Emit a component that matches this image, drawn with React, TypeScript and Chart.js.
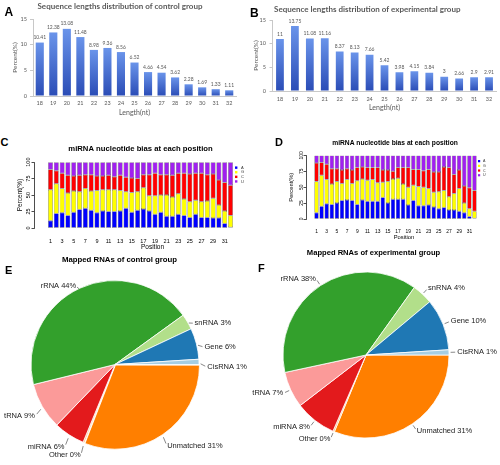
import React, { useEffect, useRef } from 'react';
import { Chart, registerables } from 'chart.js';

Chart.register(...registerables);

// ---------------- data ----------------
const lengthLabels = ['18', '19', '20', '21', '22', '23', '24', '25', '26', '27', '28', '29', '30', '31', '32'];
const controlLengthPct = [10.41, 12.38, 13.08, 11.48, 8.98, 9.36, 8.56, 6.52, 4.66, 4.54, 3.62, 2.28, 1.69, 1.33, 1.11];
const expLengthPct = [11, 13.75, 11.08, 11.16, 8.37, 8.13, 7.66, 5.42, 3.98, 4.15, 3.84, 3, 2.66, 2.9, 2.91];

const positions = [1, 2, 3, 4, 5, 6, 7, 8, 9, 10, 11, 12, 13, 14, 15, 16, 17, 18, 19, 20, 21, 22, 23, 24, 25, 26, 27, 28, 29, 30, 31, 32];
const positionTicks = [1, 3, 5, 7, 9, 11, 13, 15, 17, 19, 21, 23, 25, 27, 29, 31];
const nucleotides = ['A', 'G', 'C', 'U'];

const controlA = [11, 22, 23, 19, 24, 28, 30, 27, 23, 26, 25, 25, 26, 30, 24, 27, 29, 26, 21, 24, 18, 18, 21, 19, 16, 21, 16, 16, 15, 15, 7, 1];
const controlG = [47, 45, 37, 34, 32, 27, 30, 29, 34, 32, 33, 33, 31, 25, 30, 28, 32, 23, 28, 26, 32, 29, 31, 25, 24, 21, 24, 25, 30, 20, 19, 18];
const controlC = [31, 20, 23, 27, 23, 25, 21, 25, 22, 21, 22, 20, 23, 22, 22, 20, 20, 32, 34, 31, 31, 33, 31, 39, 42, 41, 43, 40, 37, 38, 43, 46];
const controlU = [11, 13, 17, 20, 21, 20, 19, 19, 21, 21, 20, 22, 20, 23, 24, 25, 19, 19, 17, 19, 19, 20, 17, 17, 18, 17, 17, 19, 18, 27, 31, 35];

const expA = [10, 20, 24, 23, 25, 29, 30, 29, 23, 30, 28, 28, 28, 34, 25, 31, 31, 31, 22, 29, 21, 21, 22, 19, 16, 18, 14, 14, 12, 10, 4, 1];
const expG = [49, 49, 38, 32, 34, 27, 32, 27, 37, 33, 33, 34, 29, 24, 34, 32, 33, 24, 28, 24, 30, 29, 26, 23, 27, 27, 21, 26, 36, 15, 12, 11];
const expC = [29, 20, 24, 24, 20, 21, 17, 21, 21, 19, 20, 19, 24, 19, 18, 12, 17, 26, 31, 25, 27, 26, 30, 32, 31, 37, 46, 30, 29, 27, 33, 33];
const expU = [12, 11, 14, 21, 21, 23, 21, 23, 19, 18, 19, 19, 19, 23, 23, 25, 19, 19, 19, 22, 22, 24, 22, 26, 26, 18, 19, 30, 23, 48, 51, 55];

// pie slices in drawing order (clockwise from 3 o'clock)
const pieLabels = ['Unmatched', 'Other', 'miRNA', 'tRNA', 'rRNA', 'snRNA', 'Gene', 'CisRNA'];
const controlPie = [31, 0.3, 6, 9, 44, 3, 6, 1];
const expPie = [31, 0.3, 8, 7, 38, 4, 10, 1];

// ---------------- styles ----------------
const LATO = 'Lato';
const ARIAL = '"Liberation Sans", Arial, sans-serif';
const GREY = '#595959';
const nucColors = ['#0000ff', '#ffff00', '#ff0000', '#a020f0'];
const pieColors = ['#ff7f00', '#fdbf6f', '#e31a1c', '#fb9a99', '#33a02c', '#b2df8a', '#1f78b4', '#a6cee3'];

function barGradient(context: any) {
  const chart = context.chart;
  const y = chart.scales && chart.scales.y;
  const fallback = '#3d66cf';
  if (!y || context.type !== 'data') return fallback;
  const top = y.getPixelForValue(context.raw);
  const bottom = y.getPixelForValue(0);
  if (!isFinite(top) || !isFinite(bottom) || bottom - top < 0.5) return fallback;
  const g = chart.ctx.createLinearGradient(0, top, 0, bottom);
  g.addColorStop(0, '#6a94ea');
  g.addColorStop(1, '#2a4cb6');
  return g;
}

const barValuesPlugin = {
  id: 'barValues',
  afterDatasetsDraw(chart: any) {
    const ctx = chart.ctx;
    const meta = chart.getDatasetMeta(0);
    const values = chart.data.datasets[0].data;
    ctx.save();
    ctx.font = `5px ${LATO}`;
    ctx.fillStyle = GREY;
    ctx.textAlign = 'center';
    ctx.textBaseline = 'bottom';
    meta.data.forEach((bar: any, i: number) => {
      ctx.fillText(String(values[i]), bar.x, bar.y - 2.5);
    });
    ctx.restore();
  },
};

function captionPlugin(items: any[]) {
  return {
    id: 'captions',
    afterDraw(chart: any) {
      const ctx = chart.ctx;
      ctx.save();
      items.forEach((it) => {
        ctx.font = it.font;
        ctx.fillStyle = it.color || '#000';
        ctx.textAlign = it.align || 'center';
        ctx.textBaseline = 'middle';
        ctx.fillText(it.text, it.x, it.y);
      });
      ctx.restore();
    },
  };
}

function nucLegendPlugin(p: { dx: number; tdx: number; dy0: number; step: number; box: number; size: number }) {
  return {
    id: 'nucLegend',
    afterDraw(chart: any) {
      const ctx = chart.ctx;
      const xs = chart.scales.x;
      const ys = chart.scales.y;
      const x0 = xs.getPixelForValue(positions[positions.length - 1]);
      const y0 = ys.getPixelForValue(100);
      ctx.save();
      ctx.font = `${p.size}px ${ARIAL}`;
      ctx.textAlign = 'left';
      ctx.textBaseline = 'middle';
      chart.data.datasets.forEach((ds: any, i: number) => {
        const y = y0 + p.dy0 + i * p.step;
        ctx.fillStyle = ds.backgroundColor;
        ctx.fillRect(x0 + p.dx, y - p.box / 2, p.box, p.box);
        ctx.fillStyle = '#333';
        ctx.fillText(ds.label, x0 + p.tdx, y);
      });
      ctx.restore();
    },
  };
}

function pieLabelPlugin(labels: string[], values: number[], size: number, labelDy: number) {
  return {
    id: 'pieLabels',
    afterDatasetsDraw(chart: any) {
      const ctx = chart.ctx;
      const meta = chart.getDatasetMeta(0);
      ctx.save();
      ctx.font = `${size}px ${ARIAL}`;
      ctx.fillStyle = '#222';
      ctx.strokeStyle = '#555';
      ctx.lineWidth = 0.7;
      ctx.textBaseline = 'middle';
      meta.data.forEach((arc: any, i: number) => {
        const mid = (arc.startAngle + arc.endAngle) / 2;
        const c = Math.cos(mid);
        const s = Math.sin(mid);
        const r = arc.outerRadius;
        const tx = arc.x + c * r * 1.1;
        const ty = arc.y + s * r * 1.1 + labelDy;
        ctx.beginPath();
        ctx.moveTo(arc.x + c * r * 1.02, arc.y + s * r * 1.02 + labelDy * 0.4);
        ctx.lineTo(arc.x + c * r * 1.075, arc.y + s * r * 1.075 + labelDy * 0.9);
        ctx.stroke();
        ctx.textAlign = c >= 0 ? 'left' : 'right';
        ctx.fillText(`${labels[i]} ${Math.round(values[i])}%`, tx, ty);
      });
      ctx.restore();
    },
  };
}

// ---------------- chart configs ----------------
function makeLengthChart(p: any) {
  return {
    type: 'bar',
    data: {
      labels: lengthLabels,
      datasets: [{ data: p.values, backgroundColor: barGradient, barPercentage: p.barPct, categoryPercentage: 1 }],
    },
    options: {
      responsive: false,
      animation: false,
      devicePixelRatio: 1,
      events: [],
      layout: { padding: { left: 0, right: p.padR, top: 0, bottom: 0 } },
      plugins: {
        legend: { display: false },
        tooltip: { enabled: false },
        title: {
          display: true,
          text: p.title,
          color: GREY,
          font: { family: LATO, size: 8, weight: 'bold' },
          padding: p.titlePad,
        },
      },
      scales: {
        x: {
          grid: { display: false, drawTicks: false },
          border: { display: true, color: '#c8c8c8' },
          ticks: { padding: p.xTickPad, color: GREY, font: { family: LATO, size: 5.5 }, maxRotation: 0, autoSkip: false },
          title: { display: true, text: 'Length(nt)', color: GREY, font: { family: LATO, size: 7 }, padding: { top: 0, bottom: 0 } },
          afterFit: (s: any) => { s.height = p.xHeight; },
        },
        y: {
          min: 0,
          max: 15,
          ticks: { stepSize: 5, padding: p.yTickPad, color: GREY, font: { family: LATO, size: 5.5 } },
          grid: { display: true, drawOnChartArea: false, drawTicks: true, tickLength: 3, color: '#c8c8c8' },
          border: { display: true, color: '#c8c8c8' },
          title: { display: true, text: 'Percent(%)', color: GREY, font: { family: LATO, size: 6.5 }, padding: { top: p.yTitlePad, bottom: 0 } },
          afterFit: (s: any) => { s.width = p.yWidth; },
        },
      },
    },
    plugins: [barValuesPlugin],
  };
}

function makeNucChart(p: any) {
  const series = p.series as number[][];
  return {
    type: 'bar',
    data: {
      datasets: nucleotides.map((n, k) => ({
        label: n,
        data: positions.map((pos, i) => ({ x: pos, y: series[k][i] })),
        backgroundColor: nucColors[k],
      })),
    },
    options: {
      responsive: false,
      animation: false,
      devicePixelRatio: 1,
      events: [],
      datasets: { bar: { barPercentage: 0.83, categoryPercentage: 1, borderColor: '#3a3a3a', borderWidth: 0.5, borderSkipped: false } },
      layout: { padding: 0 },
      plugins: {
        legend: { display: false },
        tooltip: { enabled: false },
        title: {
          display: true,
          text: 'miRNA nucleotide bias at each position',
          color: '#000',
          font: { family: ARIAL, size: p.titleSize, weight: 'bold' },
          padding: p.titlePad,
        },
      },
      scales: {
        x: {
          type: 'linear',
          stacked: true,
          min: p.xMin,
          max: p.xMax,
          offset: false,
          grid: { display: false, drawTicks: false },
          border: { display: false },
          afterBuildTicks: (s: any) => { s.ticks = positionTicks.map((v) => ({ value: v })); },
          ticks: { padding: p.xTickPad, color: '#000', font: { family: ARIAL, size: p.tickSize }, autoSkip: false, maxRotation: 0 },
          title: { display: true, text: 'Position', color: '#000', font: { family: ARIAL, size: p.labelSize }, padding: { top: 0, bottom: 0 } },
          afterFit: (s: any) => { s.height = p.xHeight; },
        },
        y: {
          stacked: true,
          min: 0,
          max: 100,
          ticks: { stepSize: 25, minRotation: 90, maxRotation: 90, crossAlign: 'center', padding: p.yTickPad, color: '#000', font: { family: ARIAL, size: p.tickSize } },
          grid: { display: true, drawOnChartArea: false, drawTicks: true, tickLength: 2.5, color: '#000', lineWidth: 0.7 },
          border: { display: true, color: '#000', width: 0.7 },
          title: { display: true, text: 'Percent(%)', color: '#000', font: { family: ARIAL, size: p.labelSize }, padding: { top: p.yTitlePad, bottom: 0 } },
          afterFit: (s: any) => { s.width = p.yWidth; },
        },
      },
    },
    plugins: [nucLegendPlugin(p.legend)],
  };
}

function makePie(p: any) {
  return {
    type: 'pie',
    data: {
      labels: pieLabels,
      datasets: [{ data: p.values, backgroundColor: pieColors, borderColor: '#ffffff', borderWidth: 0.8, offset: p.offsets }],
    },
    options: {
      responsive: false,
      animation: false,
      devicePixelRatio: 1,
      events: [],
      rotation: 90,
      radius: p.radius,
      layout: { padding: p.padding },
      plugins: { legend: { display: false }, tooltip: { enabled: false } },
    },
    plugins: [pieLabelPlugin(pieLabels, p.values, 7.5, p.labelDy), captionPlugin(p.captions)],
  };
}

// ---------------- components ----------------
function ChartCanvas({ left, top, width, height, make }: { left: number; top: number; width: number; height: number; make: () => any }) {
  const ref = useRef<HTMLCanvasElement>(null);
  useEffect(() => {
    const chart = new Chart(ref.current as HTMLCanvasElement, make());
    return () => chart.destroy();
  }, []);
  return (
    <canvas
      ref={ref}
      width={width}
      height={height}
      style={{ position: 'absolute', left, top, width, height, display: 'block' }}
    />
  );
}

function Letter({ text, left, top, size }: { text: string; left: number; top: number; size: number }) {
  return (
    <div
      style={{
        position: 'absolute',
        left,
        top,
        fontFamily: ARIAL,
        fontWeight: 'bold',
        fontSize: size,
        lineHeight: `${size}px`,
        color: '#000',
      }}
    >
      {text}
    </div>
  );
}

export default function App() {
  return (
    <div style={{ position: 'fixed', left: 0, top: 0, width: 500, height: 465, background: '#fff', overflow: 'hidden' }}>
      <ChartCanvas
        left={4}
        top={0}
        width={241}
        height={117}
        make={() =>
          makeLengthChart({
            title: 'Sequence lengths distribution of control group',
            values: controlLengthPct,
            barPct: 0.6,
            padR: 9,
            yWidth: 29,
            yTickPad: 3,
            yTitlePad: 7.1,
            titlePad: { top: 1.2, bottom: 8.2 },
            xTickPad: 3.7,
            xHeight: 21,
          })
        }
      />
      <ChartCanvas
        left={238}
        top={0}
        width={262}
        height={112}
        make={() =>
          makeLengthChart({
            title: 'Sequence lengths distribution of experimental group',
            values: expLengthPct,
            barPct: 0.52,
            padR: 3.5,
            yWidth: 34.5,
            yTickPad: 3.5,
            yTitlePad: 14.1,
            titlePad: { top: 4.2, bottom: 6.2 },
            xTickPad: 4.7,
            xHeight: 21,
          })
        }
      />
      <ChartCanvas
        left={10}
        top={135}
        width={261}
        height={116}
        make={() =>
          makeNucChart({
            series: [controlA, controlG, controlC, controlU],
            titleSize: 7.7,
            titlePad: { top: 9.2, bottom: 8.7 },
            tickSize: 5.5,
            labelSize: 6.5,
            xMin: -1.8417,
            xMax: 38.975,
            xTickPad: 9.7,
            xHeight: 23,
            yTickPad: -1.6,
            yTitlePad: 6.6,
            yWidth: 24,
            legend: { dx: 4.5, tdx: 10.5, dy0: 5.5, step: 4.6, box: 2.4, size: 4 },
          })
        }
      />
      <ChartCanvas
        left={288}
        top={133}
        width={214}
        height={108}
        make={() =>
          makeNucChart({
            series: [expA, expG, expC, expU],
            titleSize: 6.7,
            titlePad: { top: 6.2, bottom: 8.2 },
            tickSize: 4.9,
            labelSize: 5.8,
            xMin: -1.06,
            xMax: 37.4,
            xTickPad: 9.7,
            xHeight: 22,
            yTickPad: -2.1,
            yTitlePad: 0,
            yWidth: 18,
            legend: { dx: 3.5, tdx: 8.5, dy0: 5.7, step: 4.7, box: 2.2, size: 3.6 },
          })
        }
      />
      <ChartCanvas
        left={0}
        top={255}
        width={250}
        height={210}
        make={() =>
          makePie({
            values: controlPie,
            radius: 84,
            offsets: [3, 0, 0, 0, 0, 0, 0, 0],
            padding: { left: 0, right: 20, top: 9, bottom: 0 },
            labelDy: 5,
            captions: [{ text: 'Mapped RNAs of control group', x: 119.5, y: 5, font: `bold 7.8px ${ARIAL}`, color: '#000' }],
          })
        }
      />
      <ChartCanvas
        left={250}
        top={248}
        width={250}
        height={217}
        make={() =>
          makePie({
            values: expPie,
            radius: 83,
            offsets: [0, 0, 0, 0, 0, 0, 0, 0],
            padding: { left: 0, right: 18, top: 0, bottom: 3 },
            labelDy: 0,
            captions: [{ text: 'Mapped RNAs of experimental group', x: 123.5, y: 5, font: `bold 7.6px ${ARIAL}`, color: '#000' }],
          })
        }
      />
      <Letter text="A" left={4.5} top={6.4} size={12} />
      <Letter text="B" left={250} top={6.5} size={12} />
      <Letter text="C" left={0.5} top={136.5} size={11} />
      <Letter text="D" left={275} top={136.5} size={11} />
      <Letter text="E" left={5} top={265} size={11} />
      <Letter text="F" left={258} top={262.5} size={11} />
    </div>
  );
}
